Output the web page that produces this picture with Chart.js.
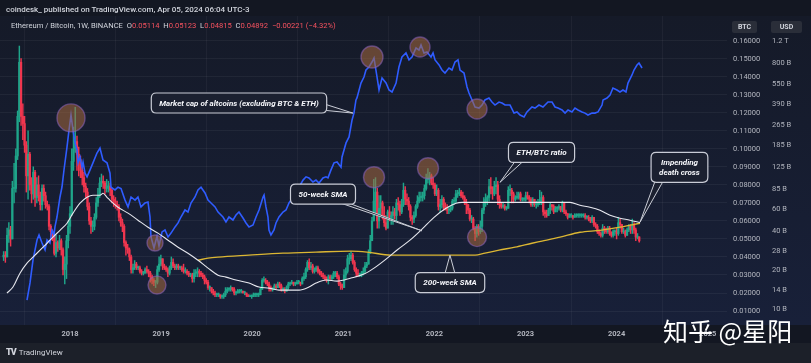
<!DOCTYPE html>
<html><head><meta charset="utf-8">
<script src="https://cdn.jsdelivr.net/npm/chart.js@4.4.1/dist/chart.umd.min.js"></script>
<style>
html,body{margin:0;padding:0;background:#131722;}
#wrap{position:relative;width:811px;height:363px;overflow:hidden;font-family:Roboto,"Liberation Sans",sans-serif;}
#cw{position:absolute;left:0;top:0;width:811px;height:363px;}
.t{position:absolute;white-space:nowrap;line-height:1;}
.hdr1{left:6px;top:6px;font-size:8px;color:#d1d4dc;font-weight:500;}
.hdr2{left:11px;top:22px;font-size:7.6px;color:#d1d4dc;}
.hdr2 .r{color:#f7525f;}
.ax{top:21px;height:12px;line-height:12px;font-size:7px;font-weight:bold;color:#d1d4dc;background:#2a2e39;border-radius:2px;text-align:center;}
.wm{left:663px;top:318px;font-size:25px;color:#ffffff;font-family:"Noto Sans CJK SC",sans-serif;letter-spacing:0px;}
.tv{left:6px;top:348px;font-size:8px;color:#d1d4dc;}
.tv b{font-size:9px;font-weight:900;margin-right:3px;letter-spacing:-1px;}
</style></head>
<body>
<div id="wrap">
  <div id="cw"><canvas id="c"></canvas></div>
  <div class="t hdr1">coindesk_ published on TradingView.com, Apr 05, 2024 06:04 UTC-3</div>
  <div class="t hdr2">Ethereum / Bitcoin, 1W, BINANCE&nbsp; O<span class="r">0.05114</span>&nbsp; H<span class="r">0.05123</span>&nbsp; L<span class="r">0.04815</span>&nbsp; C<span class="r">0.04892</span>&nbsp; <span class="r">−0.00221 (−4.32%)</span></div>
  <div class="t ax" style="left:732px;width:25px;">BTC</div>
  <div class="t ax" style="left:771px;width:31px;">USD</div>
  <div class="t tv"><b>TV</b>TradingView</div>
  <div class="t wm">知乎 @星阳</div>
</div>
<script>
// ---------------- DATA ----------------
// ETH/BTC weekly candles (Binance), first week starting 2017-04-10; open = previous close
const firstWeek = '2017-04-10';
const firstOpen = 0.040;
const closes = [
  // 2017 Apr..Dec
  0.041,0.040,0.052, 0.055,0.050,0.078,0.078,0.096, 0.118,0.148,0.118,0.114, 0.102,0.085,0.097,0.080,0.075,
  0.087,0.073,0.080,0.074, 0.069,0.078,0.074,0.069, 0.068,0.057,0.054,0.052,0.042, 0.048,0.045,0.049,0.044, 0.033,0.036,0.049,0.057,
  // 2018
  0.064,0.093,0.100,0.104,0.097, 0.094,0.088,0.084,0.079, 0.076,0.068,0.060,0.057, 0.057,0.062,0.070,0.074,0.081, 0.082,0.081,0.078,0.079,
  0.079,0.077,0.072,0.071, 0.069,0.068,0.062,0.059,0.057, 0.048,0.045,0.044,0.040, 0.033,0.034,0.036,0.034, 0.034,0.032,0.031,0.031,0.033,
  0.032,0.031,0.029,0.027, 0.026,0.026,0.033,0.036,0.039,
  // 2019
  0.035,0.034,0.033,0.031, 0.034,0.037,0.035,0.034, 0.035,0.034,0.034,0.033, 0.032,0.032,0.031,0.030,0.030, 0.028,0.031,0.031,0.032,
  0.031,0.030,0.029,0.027, 0.026,0.023,0.023,0.021,0.020, 0.019,0.019,0.019,0.018, 0.018,0.019,0.021,0.022,0.022, 0.023,0.022,0.020,0.020,
  0.021,0.021,0.021,0.020, 0.020,0.019,0.018,0.018,0.018,
  // 2020
  0.019,0.019,0.019,0.019, 0.022,0.027,0.027,0.026, 0.025,0.023,0.022,0.022,0.024, 0.023,0.025,0.024,0.022, 0.022,0.021,0.023,0.025,
  0.025,0.026,0.025,0.025,0.026, 0.026,0.025,0.028,0.029, 0.033,0.037,0.034,0.035,0.032, 0.033,0.034,0.032,0.031, 0.030,0.029,0.028,0.027,
  0.029,0.028,0.029,0.031,0.031, 0.029,0.025,0.024,0.023,
  // 2021
  0.030,0.032,0.039,0.039, 0.041,0.037,0.033,0.031, 0.030,0.030,0.031,0.032,0.035, 0.036,0.042,0.049,0.060, 0.071,0.076,0.060,0.067,0.070,
  0.063,0.059,0.056,0.065, 0.062,0.063,0.065,0.063, 0.070,0.069,0.065,0.069,0.077, 0.072,0.071,0.068,0.062, 0.061,0.063,0.068,0.071,
  0.073,0.073,0.074,0.078,0.083, 0.084,0.085,0.081,0.080,
  // 2022
  0.075,0.077,0.068,0.069,0.072, 0.068,0.067,0.066,0.066, 0.067,0.071,0.071,0.075, 0.075,0.076,0.074,0.073, 0.070,0.069,0.066,0.061,0.061,
  0.056,0.053,0.057,0.054, 0.057,0.066,0.070,0.072, 0.073,0.079,0.078,0.075,0.079, 0.080,0.072,0.069,0.068, 0.068,0.067,0.067,0.077,0.077,
  0.075,0.072,0.073,0.073, 0.075,0.072,0.072,0.072,
  // 2023
  0.074,0.073,0.072,0.069,0.072, 0.069,0.069,0.070,0.071, 0.073,0.065,0.064,0.063, 0.066,0.069,0.068,0.065, 0.067,0.067,0.068,0.066,0.070,
  0.065,0.064,0.062,0.063, 0.063,0.062,0.063,0.063,0.063, 0.063,0.063,0.063,0.062, 0.062,0.061,0.060,0.062, 0.058,0.057,0.054,0.053,0.052,
  0.056,0.055,0.054,0.056, 0.053,0.052,0.054,0.054,
  // 2024 Jan..Apr
  0.053,0.059,0.058,0.054,0.054, 0.052,0.055,0.057,0.055, 0.058,0.055,0.051,0.05113, 0.04892
];
const highs = [
  0.043,0.043,0.056, 0.059,0.057,0.082,0.092,0.100, 0.121,0.157,0.150,0.125, 0.118,0.104,0.110,0.098,0.084,
  0.090,0.088,0.084,0.085, 0.076,0.080,0.080,0.076, 0.071,0.069,0.058,0.055,0.053, 0.052,0.049,0.052,0.050, 0.045,0.040,0.052,0.060,
  0.068,0.100,0.112,0.123,0.107, 0.101,0.096,0.090,0.087, 0.081,0.078,0.070,0.062, 0.060,0.064,0.073,0.078,0.084, 0.086,0.085,0.082,0.083,
  0.082,0.081,0.078,0.074, 0.073,0.071,0.069,0.064,0.061, 0.058,0.049,0.047,0.045, 0.041,0.036,0.038,0.037, 0.035,0.035,0.033,0.032,0.034,
  0.035,0.033,0.032,0.030, 0.028,0.027,0.035,0.040,0.041,
  0.038,0.036,0.035,0.034, 0.035,0.040,0.039,0.036, 0.036,0.036,0.035,0.035, 0.036,0.034,0.033,0.032,0.031, 0.031,0.033,0.033,0.034,
  0.033,0.032,0.031,0.030, 0.028,0.027,0.024,0.023,0.022, 0.021,0.020,0.020,0.019, 0.019,0.020,0.023,0.023,0.023, 0.024,0.023,0.023,0.021,
  0.022,0.022,0.022,0.021, 0.021,0.020,0.019,0.019,0.019,
  0.020,0.020,0.020,0.020, 0.023,0.028,0.029,0.028, 0.027,0.026,0.024,0.023,0.025, 0.025,0.026,0.026,0.025, 0.023,0.023,0.024,0.026,
  0.026,0.027,0.026,0.026,0.027, 0.027,0.026,0.029,0.031, 0.034,0.038,0.039,0.037,0.036, 0.034,0.035,0.035,0.033, 0.032,0.031,0.030,0.029,
  0.030,0.030,0.030,0.032,0.032, 0.032,0.030,0.026,0.025,
  0.033,0.034,0.041,0.042, 0.043,0.042,0.038,0.034, 0.033,0.031,0.032,0.034,0.037, 0.037,0.044,0.052,0.062, 0.083,0.084,0.078,0.074,0.074,
  0.071,0.068,0.063,0.066, 0.068,0.065,0.068,0.067, 0.072,0.073,0.071,0.072,0.081, 0.079,0.075,0.073,0.069, 0.063,0.065,0.069,0.074,
  0.076,0.076,0.076,0.080,0.086, 0.089,0.087,0.086,0.084,
  0.081,0.080,0.078,0.072,0.074, 0.073,0.070,0.069,0.068, 0.068,0.072,0.073,0.077, 0.077,0.078,0.077,0.076, 0.074,0.072,0.069,0.067,0.063,
  0.062,0.057,0.058,0.058, 0.060,0.067,0.073,0.075, 0.074,0.083,0.084,0.079,0.082, 0.084,0.082,0.074,0.070, 0.070,0.069,0.068,0.079,0.080,
  0.078,0.076,0.074,0.076, 0.076,0.076,0.073,0.073,
  0.076,0.076,0.074,0.073,0.073, 0.072,0.071,0.072,0.077, 0.076,0.074,0.066,0.066, 0.067,0.070,0.069,0.069, 0.068,0.068,0.069,0.068,0.071,
  0.070,0.066,0.064,0.064, 0.064,0.063,0.064,0.064,0.064, 0.064,0.064,0.064,0.064, 0.063,0.063,0.062,0.063, 0.062,0.059,0.058,0.055,0.054,
  0.058,0.057,0.056,0.057, 0.057,0.054,0.055,0.055,
  0.056,0.062,0.061,0.058,0.056, 0.055,0.056,0.058,0.058, 0.061,0.059,0.056,0.053, 0.05123
];
const lows = [
  0.038,0.037,0.040, 0.048,0.046,0.050,0.070,0.076, 0.094,0.115,0.113,0.105, 0.098,0.076,0.072,0.077,0.070,
  0.072,0.068,0.070,0.071, 0.066,0.066,0.071,0.067, 0.066,0.055,0.050,0.049,0.041, 0.040,0.043,0.044,0.041, 0.030,0.025,0.028,0.045,
  0.053,0.063,0.088,0.098,0.088, 0.085,0.084,0.080,0.076, 0.073,0.066,0.058,0.053, 0.054,0.055,0.061,0.068,0.073, 0.079,0.078,0.075,0.076,
  0.076,0.074,0.070,0.068, 0.067,0.066,0.060,0.057,0.054, 0.046,0.041,0.042,0.038, 0.031,0.031,0.033,0.033, 0.033,0.031,0.030,0.030,0.031,
  0.031,0.029,0.026,0.025, 0.024,0.023,0.025,0.032,0.035,
  0.033,0.033,0.032,0.029, 0.030,0.033,0.034,0.033, 0.033,0.033,0.033,0.032, 0.031,0.031,0.030,0.029,0.029, 0.026,0.026,0.029,0.029,
  0.029,0.029,0.028,0.025, 0.025,0.022,0.021,0.020,0.019, 0.018,0.018,0.018,0.017, 0.017,0.017,0.018,0.020,0.021, 0.021,0.021,0.019,0.019,
  0.020,0.020,0.020,0.020, 0.019,0.018,0.018,0.018,0.017,
  0.018,0.018,0.018,0.018, 0.019,0.022,0.026,0.025, 0.024,0.021,0.021,0.021,0.022, 0.022,0.023,0.023,0.021, 0.021,0.020,0.021,0.022,
  0.024,0.025,0.024,0.024,0.025, 0.025,0.024,0.025,0.027, 0.028,0.032,0.033,0.033,0.031, 0.031,0.032,0.031,0.030, 0.029,0.028,0.027,0.026,
  0.025,0.027,0.027,0.028,0.029, 0.028,0.024,0.022,0.022,
  0.023,0.028,0.031,0.036, 0.038,0.036,0.032,0.029, 0.029,0.029,0.029,0.030,0.031, 0.034,0.036,0.042,0.049, 0.060,0.064,0.056,0.056,0.063,
  0.061,0.057,0.055,0.056, 0.060,0.058,0.058,0.061, 0.060,0.066,0.063,0.064,0.068, 0.069,0.069,0.066,0.060, 0.058,0.059,0.062,0.067,
  0.070,0.071,0.071,0.072,0.077, 0.081,0.080,0.080,0.078,
  0.074,0.074,0.066,0.065,0.067, 0.066,0.066,0.064,0.064, 0.065,0.066,0.069,0.070, 0.073,0.074,0.073,0.072, 0.069,0.064,0.064,0.060,0.059,
  0.055,0.049,0.051,0.052, 0.053,0.054,0.064,0.068, 0.069,0.071,0.075,0.072,0.074, 0.075,0.069,0.067,0.067, 0.067,0.066,0.066,0.067,0.074,
  0.070,0.070,0.071,0.072, 0.072,0.071,0.071,0.071,
  0.071,0.072,0.070,0.068,0.068, 0.068,0.067,0.068,0.069, 0.069,0.063,0.062,0.062, 0.063,0.064,0.066,0.064, 0.065,0.065,0.066,0.065,0.065,
  0.064,0.063,0.061,0.062, 0.062,0.061,0.062,0.062,0.062, 0.062,0.062,0.062,0.061, 0.061,0.060,0.059,0.059, 0.057,0.056,0.053,0.052,0.051,
  0.051,0.053,0.053,0.053, 0.052,0.051,0.051,0.052,
  0.050,0.052,0.056,0.053,0.053, 0.051,0.052,0.054,0.053, 0.053,0.053,0.049,0.050, 0.04815
];

// Market cap of altcoins excl. BTC & ETH (USD, billions), by decimal year
const altcapYears = [
  2017.528,2017.561,2017.594,2017.638,2017.660,2017.693,2017.726,2017.748,2017.780,2017.802,2017.824,2017.835,2017.857,2017.890,2017.912,2017.934,2017.967,2017.989,
  2018.011,2018.033,2018.055,2018.077,2018.088,2018.110,2018.132,2018.143,2018.165,2018.187,2018.220,2018.252,2018.296,2018.329,2018.362,2018.406,2018.439,2018.450,
  2018.494,2018.527,2018.560,2018.604,2018.637,2018.670,2018.714,2018.746,2018.779,2018.823,2018.856,2018.878,2018.889,2018.922,2018.955,2018.977,
  2019.010,2019.043,2019.076,2019.109,2019.153,2019.186,2019.218,2019.262,2019.295,2019.328,2019.372,2019.405,2019.438,2019.482,2019.515,2019.548,2019.592,2019.625,
  2019.679,2019.712,2019.745,2019.789,2019.822,2019.855,2019.899,2019.932,2019.965,
  2020.009,2020.042,2020.075,2020.119,2020.130,2020.151,2020.173,2020.184,2020.206,2020.239,2020.261,2020.294,2020.338,2020.371,2020.404,2020.448,2020.481,2020.514,
  2020.558,2020.591,2020.623,2020.667,2020.700,2020.733,2020.777,2020.810,2020.832,2020.865,2020.898,2020.931,2020.975,2020.986,
  2021.030,2021.063,2021.096,2021.117,2021.139,2021.150,2021.194,2021.227,2021.249,2021.282,2021.315,2021.337,2021.370,2021.392,2021.425,2021.469,2021.502,2021.535,
  2021.579,2021.611,2021.644,2021.688,2021.721,2021.754,2021.798,2021.831,2021.853,2021.886,2021.919,2021.963,2021.985,
  2022.007,2022.051,2022.083,2022.116,2022.160,2022.193,2022.226,2022.259,2022.281,2022.325,2022.358,2022.380,2022.413,2022.446,2022.490,2022.523,2022.555,2022.599,
  2022.632,2022.665,2022.709,2022.742,2022.775,2022.830,2022.874,2022.907,2022.940,2022.984,
  2023.016,2023.071,2023.104,2023.148,2023.192,2023.247,2023.291,2023.324,2023.357,2023.401,2023.434,2023.467,2023.510,2023.543,2023.576,2023.620,2023.653,2023.686,
  2023.730,2023.762,2023.796,2023.840,2023.851,2023.895,2023.928,2023.960,
  2024.004,2024.037,2024.070,2024.103,2024.125,2024.169,2024.191,2024.224,2024.246,2024.279
];
const altcapBillions = [
  11.8,16.0,24.1,34.4,37.6,32.6,28.8,34.4,32.6,41.1,37.6,43.4,51.8,74.0,88.4,119.7,180,244,
  319,244,194,171,136,151,126,138,113,106,120,136,162,177,143,136,113,88,
  84,88,86,70,62,74,70,74,62,66.5,67.7,52,36.3,29.8,36.9,30.9,
  39.7,41.1,36.3,38.9,43.4,46.6,51.8,58.7,56.6,66.5,74,84,88,79.5,70,66.5,62,56.6,
  51.8,47.4,51.8,49.1,53.7,56.6,50.9,46.6,43.4,
  44.9,51.8,58.7,74,76.7,62,51.8,41.1,37.6,41.1,46.6,51.8,56.6,58.7,66.5,74,79.5,88.4,
  100,106,104,96.6,100,94.9,104,106,104,120,136,138,126,151,
  194,216,292,330,417,432,564,628,711,750,820,881,628,498,617,564,498,481,
  564,750,897,963,851,897,1052,1016,1111,963,980,897,963,
  851,778,711,674,737,711,820,851,711,674,526,472,417,368,361,381,417,432,
  402,381,402,395,381,381,330,337,319,308,
  337,368,361,381,368,402,402,368,361,349,330,349,337,361,349,337,330,319,
  330,330,337,381,417,432,456,516,
  498,481,498,481,564,651,711,778,806,737
];

// 50-week SMA of ETH/BTC (white)
const sma50Years = [2017.308,2017.374,2017.451,2017.528,2017.594,2017.671,2017.748,2017.813,2017.890,2017.967,2018.033,2018.110,2018.187,2018.252,2018.329,2018.362,
  2018.406,2018.439,2018.527,2018.637,2018.746,2018.856,2018.966,2019.076,2019.186,2019.295,2019.405,2019.515,2019.625,2019.712,2019.822,2019.965,2020.075,2020.184,
  2020.294,2020.404,2020.514,2020.623,2020.700,2020.810,2020.931,2021.085,2021.227,2021.337,2021.469,2021.601,2021.732,2021.864,2021.996,2022.127,2022.237,2022.303,
  2022.523,2022.885,2023.489,2023.598,2023.708,2023.818,2023.928,2024.037,2024.147,2024.257];
const sma50Values = [0.0200,0.0233,0.0310,0.0366,0.0399,0.0438,0.0476,0.0510,0.0548,0.0587,0.0643,0.0698,0.0731,0.0742,0.0742,0.0753,
  0.0731,0.0714,0.0676,0.0643,0.0604,0.0565,0.0532,0.0493,0.0454,0.0421,0.0382,0.0338,0.0299,0.0288,0.0272,0.0255,0.0233,0.0227,
  0.0216,0.0216,0.0216,0.0233,0.0255,0.0272,0.0266,0.0283,0.0305,0.0338,0.0388,0.0443,0.0493,0.0554,0.0620,0.0670,0.0698,0.0703,
  0.0703,0.0703,0.0703,0.0687,0.0676,0.0659,0.0631,0.0615,0.0604,0.0590];

// 200-week SMA of ETH/BTC (yellow)
const sma200Years = [2019.405,2019.515,2019.625,2019.965,2020.338,2020.700,2021.085,2021.260,2021.524,2021.996,2022.446,2022.555,2022.709,2022.885,2023.071,2023.181,2023.379,2023.598,2023.818,2024.037,2024.257];
const sma200Values = [0.0382,0.0393,0.0399,0.0410,0.0421,0.0427,0.0432,0.0427,0.0410,0.0410,0.0410,0.0421,0.0438,0.0454,0.0476,0.0488,0.0510,0.0537,0.0548,0.0565,0.0587];

// axes
const yearTicks = [2018,2019,2020,2021,2022,2023,2024,2025];
const btcTicks = [0.01,0.02,0.03,0.04,0.05,0.06,0.07,0.08,0.09,0.10,0.11,0.12,0.13,0.14,0.15,0.16];
const usdTickValues = [1200,800,550,390,265,185,125,85,60,40,28,20,14,10];
const usdTickLabels = ['1.2 T','800 B','550 B','390 B','265 B','185 B','125 B','85 B','60 B','40 B','28 B','20 B','14 B','10 B'];

// highlight circles (decimal year, value, axis)
const highlights = [
  {t:2018.011, v:303, axis:'usd', r:14},
  {t:2018.933, v:32.6, axis:'usd', r:8},
  {t:2018.955, v:0.0244, axis:'btc', r:9},
  {t:2021.315, v:897, axis:'usd', r:11},
  {t:2021.842, v:1072, axis:'usd', r:10},
  {t:2022.468, v:355, axis:'usd', r:10},
  {t:2021.337, v:0.0842, axis:'btc', r:10.5},
  {t:2021.930, v:0.0892, axis:'btc', r:10.5},
  {t:2022.468, v:0.0510, axis:'btc', r:9.5}
];
// callout labels: box centre (year, BTC value) and pointer tip
const callouts = [
  {text:['Market cap of altcoins (excluding BTC & ETH)'], t:2019.855, v:0.1254, tipT:2021.106, tipV:330, tipAxis:'usd', side:'right', at:0.72},
  {text:['50-week SMA'], t:2020.777, v:0.0748, tipT:2021.864, tipV:0.0545, tipAxis:'btc', side:'bottom', at:0.84},
  {text:['200-week SMA'], t:2022.171, v:0.0258, tipT:2022.171, tipV:0.0410, tipAxis:'btc', side:'top', at:0.5},
  {text:['ETH/BTC ratio'], t:2023.176, v:0.0980, tipT:2022.72, tipV:0.0814, tipAxis:'btc', side:'bottom', at:0.16},
  {text:['Impending','death cross'], t:2024.69, v:0.0897, tipT:2024.257, tipV:0.0593, tipAxis:'btc', side:'bottom', at:0.14}
];

// ---------------- BUILD ----------------
function decYear(d){const y=d.getUTCFullYear();const s=Date.UTC(y,0,1),e=Date.UTC(y+1,0,1);return y+(d.getTime()-s)/(e-s);}
const t0 = new Date(firstWeek+'T00:00:00Z').getTime();
const weekX = closes.map((_,i)=>decYear(new Date(t0+i*7*864e5)));
const opens = closes.map((c,i)=> i===0 ? firstOpen : closes[i-1]);
const UP='#1fa58a', DOWN='#f0364f';
const candleColors = closes.map((c,i)=> c>=opens[i] ? UP : DOWN);
const bodies = closes.map((c,i)=>({x:weekX[i], y:[opens[i], c]}));
const wicks = closes.map((c,i)=>({x:weekX[i], y:[Math.min(lows[i],opens[i],c), Math.max(highs[i],opens[i],c)]}));
const altcap = altcapYears.map((t,i)=>({x:t, y:altcapBillions[i]}));
const sma50 = sma50Years.map((t,i)=>({x:t, y:sma50Values[i]}));
const sma200 = sma200Years.map((t,i)=>({x:t, y:sma200Values[i]}));

Chart.defaults.font.family = 'Roboto, "Liberation Sans", sans-serif';

const bgPlugin = {
  id:'bg',
  beforeDraw(chart){
    const {ctx, chartArea:ca, width, height} = chart;
    const xs = chart.scales.x;
    ctx.save();
    ctx.fillStyle = '#131722'; ctx.fillRect(0,0,width,height);
    const g = ctx.createLinearGradient(0, ca.top, 0, ca.bottom);
    g.addColorStop(0,'#151a28'); g.addColorStop(1,'#182039');
    ctx.fillStyle = g; ctx.fillRect(0, ca.top, width, ca.bottom-ca.top);
    ctx.fillStyle = '#1c2029'; ctx.fillRect(0, xs.bottom, width, height-xs.bottom);
    ctx.restore();
  }
};

function rr(ctx,x,y,w,h,r){ctx.beginPath();ctx.moveTo(x+r,y);ctx.lineTo(x+w-r,y);ctx.quadraticCurveTo(x+w,y,x+w,y+r);ctx.lineTo(x+w,y+h-r);ctx.quadraticCurveTo(x+w,y+h,x+w-r,y+h);ctx.lineTo(x+r,y+h);ctx.quadraticCurveTo(x,y+h,x,y+h-r);ctx.lineTo(x,y+r);ctx.quadraticCurveTo(x,y,x+r,y);ctx.closePath();}

const annoPlugin = {
  id:'anno',
  afterDatasetsDraw(chart){
    const {ctx} = chart; const xs=chart.scales.x, ys=chart.scales.y, yu=chart.scales.y1;
    ctx.save();
    for(const c of highlights){
      const px=xs.getPixelForValue(c.t), py=(c.axis==='usd'?yu:ys).getPixelForValue(c.v);
      ctx.beginPath(); ctx.arc(px,py,c.r,0,Math.PI*2);
      ctx.fillStyle='rgba(168,106,62,0.55)'; ctx.fill();
      ctx.lineWidth=1.4; ctx.strokeStyle='rgba(140,100,190,0.55)'; ctx.stroke();
    }
    ctx.font='italic bold 8px Roboto, "Liberation Sans", sans-serif';
    for(const a of callouts){
      const lh=10;
      const tw=Math.max(...a.text.map(s=>ctx.measureText(s).width));
      const w=tw+16, h=a.text.length*lh+10;
      const cx=xs.getPixelForValue(a.t), cy=ys.getPixelForValue(a.v);
      const bx=cx-w/2, by=cy-h/2;
      const tx=xs.getPixelForValue(a.tipT), ty=(a.tipAxis==='usd'?yu:ys).getPixelForValue(a.tipV);
      let b1,b2;
      if(a.side==='bottom'){const px=bx+w*a.at; b1=[px-4,by+h-1]; b2=[px+4,by+h-1];}
      else if(a.side==='top'){const px=bx+w*a.at; b1=[px-5,by+1]; b2=[px+5,by+1];}
      else {const py=by+h*a.at; b1=[bx+w-1,py-3]; b2=[bx+w-1,py+3];}
      ctx.beginPath(); ctx.moveTo(b1[0],b1[1]); ctx.lineTo(tx,ty); ctx.lineTo(b2[0],b2[1]); ctx.closePath();
      ctx.fillStyle='#1b2030'; ctx.fill();
      ctx.beginPath(); ctx.moveTo(b1[0],b1[1]); ctx.lineTo(tx,ty); ctx.lineTo(b2[0],b2[1]);
      ctx.lineWidth=1; ctx.strokeStyle='#c9ccd6'; ctx.stroke();
      rr(ctx,bx,by,w,h,5); ctx.fillStyle='#1b2030'; ctx.fill(); ctx.lineWidth=1.2; ctx.strokeStyle='#c9ccd6'; ctx.stroke();
      ctx.fillStyle='#f5f6fa'; ctx.textAlign='center'; ctx.textBaseline='middle';
      a.text.forEach((s,i)=>ctx.fillText(s, cx, by+5+lh/2+i*lh+0.5));
    }
    ctx.restore();
  }
};

new Chart(document.getElementById('c'), {
  type:'bar',
  data:{datasets:[
    {type:'line', label:'50-week SMA', data:sma50, xAxisID:'x', yAxisID:'y', borderColor:'#e6e7ee', borderWidth:1.1, pointRadius:0, cubicInterpolationMode:'monotone', order:0},
    {type:'line', label:'200-week SMA', data:sma200, xAxisID:'x', yAxisID:'y', borderColor:'#dcb733', borderWidth:1.3, pointRadius:0, cubicInterpolationMode:'monotone', order:0},
    {type:'line', label:'Altcoin market cap', data:altcap, xAxisID:'x', yAxisID:'y1', borderColor:'#2f5cff', borderWidth:1.6, pointRadius:0, tension:0, order:1},
    {type:'bar', label:'bodies', data:bodies, xAxisID:'x', yAxisID:'y', backgroundColor:candleColors, borderWidth:0, barThickness:1.6, grouped:false, minBarLength:1, order:2},
    {type:'bar', label:'wicks', data:wicks, xAxisID:'x', yAxisID:'y', backgroundColor:candleColors, borderWidth:0, barThickness:0.8, grouped:false, order:3}
  ]},
  options:{
    responsive:true, maintainAspectRatio:false, animation:false, events:[],
    layout:{padding:{left:0,top:16,right:0,bottom:20}},
    plugins:{legend:{display:false}, tooltip:{enabled:false}},
    scales:{
      x:{type:'linear', position:'bottom', min:2017.2316, max:2025.2118, offset:false,
         afterBuildTicks:s=>{s.ticks=yearTicks.map(v=>({value:v}));},
         afterFit:s=>{s.height=18;},
         grid:{color:'rgba(255,255,255,0.045)', drawTicks:false}, border:{display:false},
         ticks:{autoSkip:false, maxRotation:0, padding:5, color:'#b2b5be', font:{size:7.5, weight:'bold'}, callback:v=>String(v)}},
      y:{type:'linear', position:'right', weight:0, min:0.00225, max:0.17367,
         afterBuildTicks:s=>{s.ticks=btcTicks.map(v=>({value:v}));},
         afterFit:s=>{s.width=44;},
         grid:{color:'rgba(255,255,255,0.05)', drawTicks:false}, border:{display:false},
         ticks:{autoSkip:false, padding:6, color:'#b2b5be', font:{size:7.5}, callback:v=>Number(v).toFixed(5)}},
      y1:{type:'logarithmic', position:'right', weight:1, min:7.56, max:1862,
         afterBuildTicks:s=>{s.ticks=usdTickValues.map(v=>({value:v}));},
         afterFit:s=>{s.width=40;},
         grid:{display:false, drawTicks:false}, border:{display:false},
         ticks:{autoSkip:false, padding:1, color:'#b2b5be', font:{size:7.5}, callback:v=>usdTickLabels[usdTickValues.indexOf(v)]}}
    }
  },
  plugins:[bgPlugin, annoPlugin]
});
</script>
</body></html>
